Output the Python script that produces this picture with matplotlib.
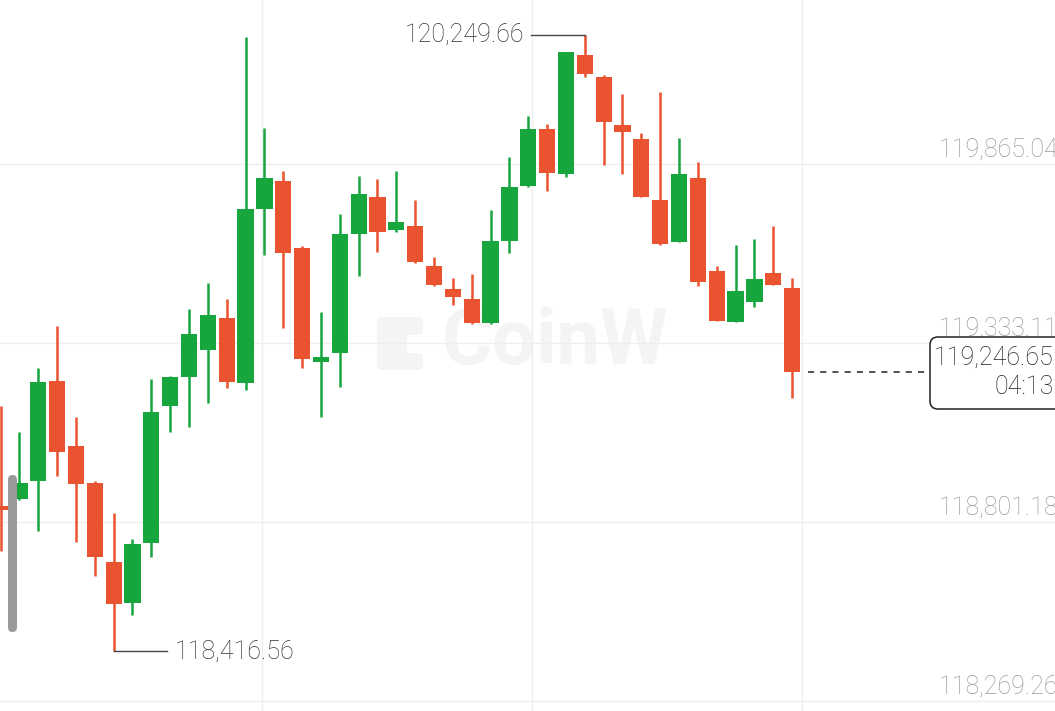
import matplotlib
matplotlib.use("Agg")
import matplotlib.pyplot as plt
import matplotlib.patches as mpatches
import numpy as np

plt.rcParams["font.family"] = ["Roboto", "DejaVu Sans"]

# --- OHLC data ---
opens = [118849, 118868, 118923, 119220, 119028, 118917, 118682, 118561, 118739, 119147,
         119231, 119312, 119408, 119215, 119730, 119815, 119616, 119278, 119304, 119658,
         119768, 119669, 119682, 119563, 119494, 119465, 119392, 119637, 119800, 119968,
         119835, 120188, 120123, 119981, 119939, 119758, 119634, 119823, 119546, 119395,
         119455, 119540, 119496]
highs = [119146, 119069, 119259, 119384, 119113, 118923, 118828, 118751, 119227, 119234,
         119435, 119511, 119463, 120243, 119971, 119844, 119622, 119425, 119716, 119829,
         119821, 119844, 119757, 119589, 119525, 119538, 119728, 119887, 120009, 119983,
         120199, 120249.66, 120130, 120073, 119958, 120078, 119941, 119870, 119563, 119624,
         119643, 119680, 119525]
lows = [118715, 118866, 118774, 118938, 118742, 118642, 118416.56, 118526, 118698, 119069,
        119083, 119154, 119198, 119193, 119595, 119379, 119258, 119112, 119201, 119531,
        119604, 119662, 119571, 119502, 119445, 119390, 119390, 119600, 119797, 119786,
        119826, 120124, 119862, 119834, 119767, 119624, 119632, 119502, 119398, 119394,
        119439, 119504, 119169]
closes = [118837, 118918, 119217, 119010, 118915, 118698, 118557, 118737, 119128, 119231,
          119359, 119416, 119216, 119730, 119823, 119601, 119286, 119290, 119656, 119776,
          119662, 119692, 119574, 119505, 119471, 119392, 119636, 119798, 119968, 119837,
          120197, 120133, 119991, 119960, 119768, 119626, 119834, 119515, 119399, 119488,
          119523, 119505, 119246.65]

grid_prices = [119865.04, 119333.11, 118801.18, 118269.26]
grid_labels = ["119,865.04", "119,333.11", "118,801.18", "118,269.26"]
vgrid_x = [13.85, 28.2, 42.5]
last_time = "04:13"

GREEN = "#17a53e"
RED = "#e9532f"
GRID = "#eeeeee"
FW = "light"
FS = 18

fig = plt.figure(figsize=(10.55, 7.11), dpi=100)
ax = fig.add_axes([0, 0, 1, 1])
ax.set_xlim(-0.03, 55.95)
ax.set_ylim(118239.4, 120352.45)
ax.axis("off")

# grid
for g in grid_prices:
    ax.axhline(g, color=GRID, lw=1, zorder=1)
for gx in vgrid_x:
    ax.axvline(gx, color=GRID, lw=1, zorder=1)

# watermark
wm = "#f4f4f4"
ax.text(0.526, 0.517, "CoinW", transform=ax.transAxes, ha="center", va="center",
        fontsize=56, fontweight="bold", color=wm, zorder=0.5)
for (x, y, w, h) in [(3.77, 3.41, 0.30, 0.53), (3.93, 3.76, 0.30, 0.18),
                     (3.93, 3.41, 0.30, 0.17)]:
    ax.add_patch(mpatches.FancyBboxPatch(
        (x, y), w, h, boxstyle="round,pad=0,rounding_size=0.05",
        transform=fig.dpi_scale_trans, facecolor=wm, edgecolor="none", zorder=0.5))

# candles
o = np.array(opens, dtype=float)
c = np.array(closes, dtype=float)
idx = np.arange(len(o))
colors = [GREEN if cc >= oo else RED for oo, cc in zip(o, c)]
ax.vlines(idx, lows, highs, colors=colors, lw=1.8, zorder=3)
ax.bar(idx, np.maximum(np.abs(c - o), 4), bottom=np.minimum(o, c), width=0.86,
       color=colors, zorder=3)

# high / low markers
step = 1 / 18.85
ih = int(np.argmax(highs))
ax.plot([ih - 54 * step, ih], [highs[ih], highs[ih]], color="#444444", lw=1, zorder=4)
ax.text(ih - 61 * step, highs[ih], f"{highs[ih]:,.2f}", ha="right", va="center",
        fontsize=FS, fontweight=FW, color="#333333", zorder=4)
il = int(np.argmin(lows))
ax.plot([il, il + 53 * step], [lows[il], lows[il]], color="#444444", lw=1, zorder=4)
ax.text(il + 61 * step, lows[il], f"{lows[il]:,.2f}", ha="left", va="center",
        fontsize=FS, fontweight=FW, color="#333333", zorder=4)

# price labels on the right
for g, lab in zip(grid_prices, grid_labels):
    ax.annotate(lab, xy=(1.003, g), xycoords=("axes fraction", "data"),
                xytext=(0, 2), textcoords="offset pixels", ha="right", va="bottom",
                fontsize=FS, fontweight=FW, color="#999999", zorder=2)

# current price line and box
last = closes[-1]
ax.hlines(last, len(closes) - 1 + 16 * step, len(closes) - 1 + 138 * step,
          colors="#222222", lw=1.1, linestyles=(0, (4, 4)), zorder=4)
box = mpatches.FancyBboxPatch(
    (9.30, 3.02), 1.6, 0.72, boxstyle="round,pad=0,rounding_size=0.08",
    transform=fig.dpi_scale_trans, facecolor="white", edgecolor="#222222",
    lw=1.1, zorder=5)
ax.add_patch(box)
box.set_clip_path(ax.patch)
fig.text(1054 / 1055, 1 - 358 / 711, f"{last:,.2f}", ha="right", va="center",
         fontsize=FS, fontweight=FW, color="#222222", zorder=6)
fig.text(1054 / 1055, 1 - 387 / 711, last_time, ha="right", va="center",
         fontsize=FS, fontweight=FW, color="#222222", zorder=6)

# scrollbar
ax.add_patch(mpatches.FancyBboxPatch(
    (0.08, 0.79), 0.09, 1.57, boxstyle="round,pad=0,rounding_size=0.045",
    transform=fig.dpi_scale_trans, facecolor="#999999", edgecolor="none", zorder=6))

fig.savefig("out.png", dpi=100, facecolor="white")
